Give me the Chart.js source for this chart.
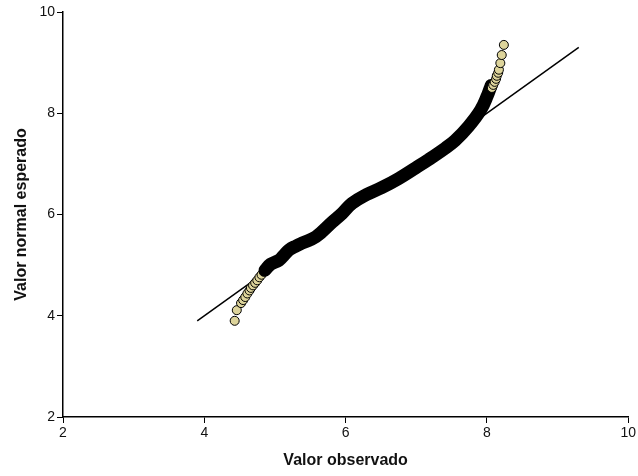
<!DOCTYPE html>
<html>
<head>
<meta charset="utf-8">
<script src="https://cdn.jsdelivr.net/npm/chart.js@4"></script>
<style>
  html, body { margin: 0; padding: 0; background: #fff; }
  #wrap { width: 638px; height: 476px; }
</style>
</head>
<body>
<div id="wrap"><canvas id="myChart"></canvas></div>
<script>
// reference line (expected = observed)
const refX = [3.9, 9.3];
const refY = [3.9, 9.3];

// lower tail points (observed, expected)
const lowX = [4.43, 4.46, 4.52, 4.55, 4.58, 4.61, 4.64, 4.66, 4.69, 4.72, 4.75, 4.78, 4.81, 4.84, 4.87];
const lowY = [3.90, 4.11, 4.25, 4.31, 4.37, 4.44, 4.50, 4.55, 4.60, 4.65, 4.70, 4.76, 4.81, 4.87, 4.92];

// dense middle of the curve (centre of the band)
const midX = [4.86, 4.94, 5.06, 5.13, 5.20, 5.30, 5.39, 5.58, 5.81, 5.95, 6.09, 6.29, 6.51, 6.75, 6.99, 7.18, 7.41, 7.55, 7.74, 7.91, 8.01, 8.06];
const midY = [4.90, 5.02, 5.10, 5.20, 5.30, 5.38, 5.44, 5.56, 5.85, 6.02, 6.22, 6.39, 6.53, 6.71, 6.92, 7.09, 7.31, 7.46, 7.74, 8.06, 8.36, 8.55];

// upper tail points
const highX = [8.07, 8.09, 8.11, 8.13, 8.14, 8.16, 8.17, 8.19, 8.21, 8.24];
const highY = [8.50, 8.56, 8.62, 8.68, 8.74, 8.80, 8.86, 8.99, 9.15, 9.35];

const xTicks = [2, 4, 6, 8, 10];
const yTicks = [2, 4, 6, 8, 10];

function pts(xs, ys) {
  return xs.map((x, i) => ({ x: x, y: ys[i] }));
}

const markerFill = "#ddd49b";
const ink = "#000";

let ctx = document.getElementById("myChart").getContext("2d");
let myChart = new Chart(ctx, {
  type: "scatter",
  data: {
    datasets: [
      {
        // upper tail on top
        data: pts(highX, highY),
        pointRadius: 4.5,
        pointBackgroundColor: markerFill,
        pointBorderColor: ink,
        pointBorderWidth: 1,
      },
      {
        data: pts(midX, midY),
        showLine: true,
        tension: 0.4,
        borderColor: ink,
        borderWidth: 13,
        borderCapStyle: "round",
        borderJoinStyle: "round",
        pointRadius: 0,
      },
      {
        data: pts(lowX, lowY),
        pointRadius: 4.5,
        pointBackgroundColor: markerFill,
        pointBorderColor: ink,
        pointBorderWidth: 1,
      },
      {
        // reference line, drawn underneath
        data: pts(refX, refY),
        showLine: true,
        borderColor: ink,
        borderWidth: 1.5,
        pointRadius: 0,
      },
    ],
  },
  options: {
    responsive: true,
    maintainAspectRatio: false,
    animation: false,
    layout: { padding: { left: 8, right: 8, top: 12, bottom: 0 } },
    plugins: {
      legend: { display: false },
      tooltip: { enabled: false },
    },
    scales: {
      x: {
        type: "linear",
        min: 2,
        max: 10,
        afterBuildTicks: (scale) => {
          scale.ticks = xTicks.map((v) => ({ value: v }));
        },
        afterFit: (scale) => {
          scale.height = 59;
        },
        border: { display: true, color: ink, width: 1.5 },
        grid: { drawOnChartArea: false, drawTicks: true, tickLength: 6, color: ink, lineWidth: 1 },
        ticks: { color: "#111", padding: 2, font: { family: "Liberation Sans, Arial", size: 14 }, maxRotation: 0 },
        title: {
          display: true,
          text: "Valor observado",
          color: "#111",
          padding: { top: 4, bottom: 6 },
          font: { family: "Liberation Sans, Arial", size: 16, weight: "bold" },
        },
      },
      y: {
        type: "linear",
        min: 2,
        max: 10,
        afterBuildTicks: (scale) => {
          scale.ticks = yTicks.map((v) => ({ value: v }));
        },
        afterFit: (scale) => {
          scale.width = 55;
        },
        border: { display: true, color: ink, width: 1.5 },
        grid: { drawOnChartArea: false, drawTicks: true, tickLength: 6, color: ink, lineWidth: 1 },
        ticks: { color: "#111", padding: 2, font: { family: "Liberation Sans, Arial", size: 14 } },
        title: {
          display: true,
          text: "Valor normal esperado",
          color: "#111",
          padding: { top: 4, bottom: 4 },
          font: { family: "Liberation Sans, Arial", size: 16, weight: "bold" },
        },
      },
    },
  },
});
</script>
</body>
</html>
